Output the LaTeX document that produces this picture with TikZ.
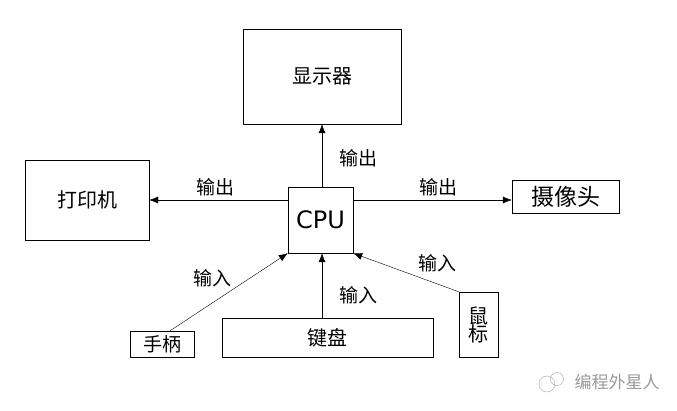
\documentclass[tikz,border=0pt]{standalone}
\usepackage{fontspec}
\setmainfont{DejaVu Sans}
\newfontfamily\cjk{Noto Sans CJK SC}
\usetikzlibrary{arrows.meta}

\tikzset{
  unit/.style={draw,thin,font=\cjk\fontsize{20}{20}\selectfont,inner sep=0pt},
  lbl/.style={font=\cjk\fontsize{19}{19}\selectfont},
  flow/.style={thin,-{Latex[length=9pt,width=7pt]}}
}

\begin{document}
\begin{tikzpicture}[x=1pt,y=-1pt]
  \useasboundingbox (0,0) rectangle (677,411);
  % units
  \node[unit,minimum width=158pt,minimum height=95pt] (disp) at (322,76.5) {显示器};
  \node[unit,minimum width=124pt,minimum height=80pt] (prn) at (87,200) {打印机};
  \node[unit,minimum width=65pt,minimum height=66pt,font=\fontsize{24}{24}\selectfont] (cpu) at (320.5,220) {CPU};
  \node[unit,minimum width=107pt,minimum height=33pt,font=\cjk\fontsize{23}{23}\selectfont] (cam) at (565.5,196.5) {摄像头};
  \node[unit,minimum width=64pt,minimum height=26pt,font=\cjk\fontsize{19}{19}\selectfont] (pad) at (162,344) {手柄};
  \node[unit,minimum width=211pt,minimum height=39pt] (kbd) at (327.5,337.5) {键盘};
  \node[unit,minimum width=39pt,minimum height=65pt,align=center] (mouse) at (478.5,324.5) {鼠\\[-2pt]标};
  % outputs
  \draw[flow] (cpu.north -| disp.south) -- (disp.south);
  \draw[flow] (cpu.west |- prn.east) -- (prn.east);
  \draw[flow] (cpu.east |- prn.east) -- (cam.west |- prn.east);
  \node[lbl] (o1) at (358,158) {输出};
  \node[lbl] (o2) at (215,187) {输出};
  \node[lbl] (o3) at (438,187) {输出};
  % inputs
  \draw[flow] ([xshift=8pt]pad.north) -- (cpu.south west);
  \draw[flow] (kbd.north -| disp.south) -- (cpu.south -| disp.south);
  \draw[flow] (mouse.north west) -- (cpu.south east);
  \node[lbl] (i1) at (212,278) {输入};
  \node[lbl] (i2) at (358,295) {输入};
  \node[lbl] (i3) at (437,263) {输入};
  % watermark
  \node[font=\cjk\fontsize{17}{17}\selectfont,text=black!40] (wm) at (617,382) {编程外星人};
  \draw[black!35,thin] ([xshift=-24pt,yshift=-2pt]wm.west) circle (8pt)
                       ([xshift=-14pt,yshift=3pt]wm.west) circle (6.5pt);
\end{tikzpicture}
\end{document}
